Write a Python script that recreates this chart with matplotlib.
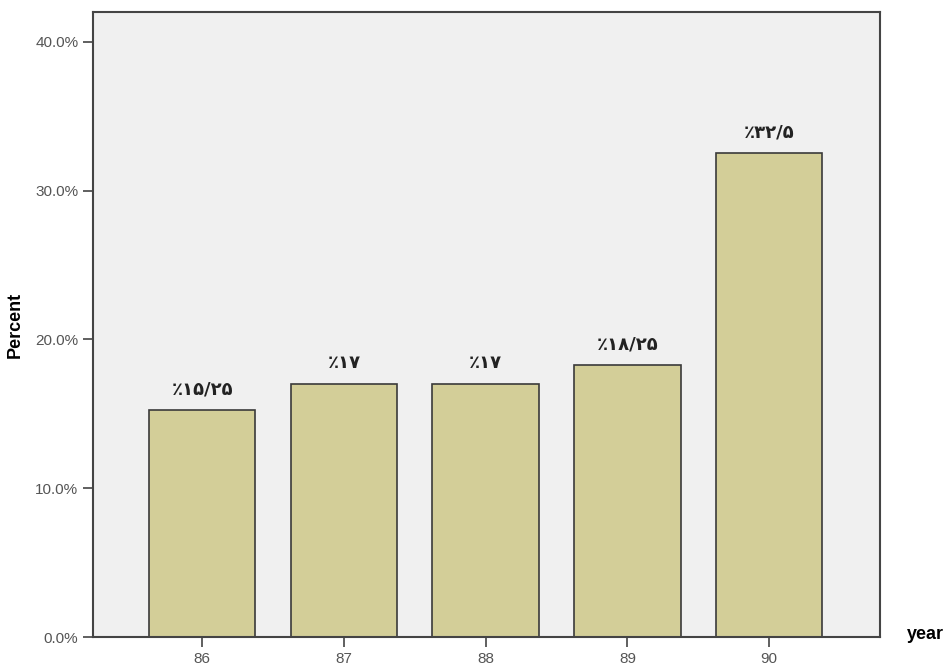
import numpy as np
import matplotlib
matplotlib.use('Agg')
import matplotlib.pyplot as plt
from matplotlib.ticker import FuncFormatter

# Datos
years = ['86', '87', '88', '89', '90']
percent = [15.25, 17, 17, 18.25, 32.5]
bar_labels = ['٪۱۵/۲۵', '٪۱۷', '٪۱۷', '٪۱۸/۲۵', '٪۳۲/۵']

clr_bar = '#d3ce98'
clr_bg = '#f0f0f0'
clr_edge = '#3a3a3a'

plt.rcParams['font.family'] = ['Liberation Sans', 'DejaVu Sans']

fig = plt.figure(figsize=(9.49, 6.66), dpi=100)
ax = fig.add_axes([0.098, 0.0435, 0.829, 0.9385])
ax.set_facecolor(clr_bg)

x = np.arange(len(years))
ax.bar(x, percent, width=0.75, color=clr_bar, edgecolor=clr_edge, linewidth=1.2)

for xi, v, lab in zip(x, percent, bar_labels):
    ax.text(xi, v + 0.8, lab, ha='center', va='bottom', fontsize=13,
            fontweight='bold', color='#222222', family=['DejaVu Sans'])

ax.set_xlim(-0.77, 4.78)
ax.set_ylim(0, 42)
ax.set_xticks(x)
ax.set_xticklabels(years)
ax.set_yticks(np.arange(0, 41, 10))
ax.yaxis.set_major_formatter(FuncFormatter(lambda v, p: f'{v:.1f}%'))
ax.tick_params(axis='both', direction='out', length=7, width=1.2,
               colors='#444444', labelsize=11, labelcolor='#555555')
for s in ax.spines.values():
    s.set_color('#444444')
    s.set_linewidth(1.5)

ax.set_ylabel('Percent', fontsize=13, fontweight='bold', labelpad=8)
fig.text(0.975, 0.048, 'year', fontsize=13, fontweight='bold', ha='center', va='center')

fig.savefig('out.png', dpi=100)
